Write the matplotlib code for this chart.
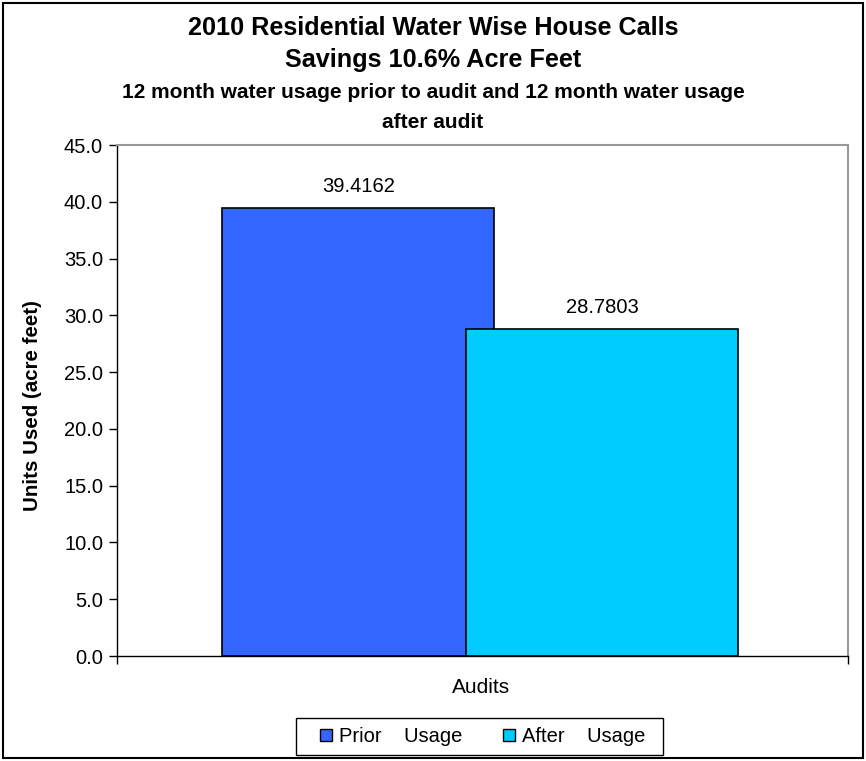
import matplotlib
matplotlib.use('Agg')
import matplotlib.pyplot as plt
from matplotlib.patches import Rectangle, Patch

plt.rcParams['font.family'] = ['Liberation Sans', 'DejaVu Sans']

series = ['Prior    Usage', 'After    Usage']
values = [39.4162, 28.7803]
value_labels = ['39.4162', '28.7803']
colors = ['#3366FF', '#00CCFF']
yticks = [0, 5, 10, 15, 20, 25, 30, 35, 40, 45]

W, H = 866, 761
fig = plt.figure(figsize=(W / 100, H / 100), dpi=100)

# outer chart border
fig.patches.append(Rectangle((3 / W, 3 / H), 860 / W, 755 / H, transform=fig.transFigure,
                             fill=False, edgecolor='black', linewidth=1.5))

ax = fig.add_axes([117 / W, 1 - 656 / H, 731 / W, 511 / H])

pos = [0.330, 0.664]
for p, v, c in zip(pos, values, colors):
    ax.bar(p, v, width=0.372, color=c, edgecolor='black', linewidth=1.2)
for p, v, t in zip(pos, values, value_labels):
    ax.text(p, v + 1.95, t, ha='center', va='center', fontsize=14.5)

ax.set_xlim(0, 1)
ax.set_ylim(0, 45)
ax.set_yticks(yticks)
ax.set_yticklabels([f'{t:.1f}' for t in yticks], fontsize=14.5)
ax.set_xticks([0, 1])
ax.set_xticklabels(['', ''])
ax.tick_params(axis='both', direction='out', length=6, width=1, color='black')
ax.tick_params(axis='y', pad=4)

for s in ['top', 'right']:
    ax.spines[s].set_color('#999999')
    ax.spines[s].set_linewidth(1.5)
for s in ['left', 'bottom']:
    ax.spines[s].set_color('black')
    ax.spines[s].set_linewidth(1)

ax.set_ylabel('Units Used (acre feet)', fontsize=14.8, fontweight='bold', va='center')
ax.yaxis.set_label_coords(-0.115, 0.49)
ax.set_xlabel('Audits', fontsize=15, va='center')
ax.xaxis.set_label_coords(0.498, -0.0607)

fig.text(0.5, 1 - 28 / H, '2010 Residential Water Wise House Calls', ha='center', va='center',
         fontsize=18.2, fontweight='bold')
fig.text(0.5, 1 - 60 / H, 'Savings 10.6% Acre Feet', ha='center', va='center',
         fontsize=18.2, fontweight='bold')
fig.text(0.5, 1 - 92 / H, '12 month water usage prior to audit and 12 month water usage',
         ha='center', va='center', fontsize=15, fontweight='bold')
fig.text(0.5, 1 - 123 / H, 'after audit', ha='center', va='center', fontsize=15, fontweight='bold')

# legend box drawn separately (Excel style, wide padding)
fig.patches.append(Rectangle((296 / W, 1 - 755 / H), 367 / W, 37 / H, transform=fig.transFigure,
                             fill=False, edgecolor='black', linewidth=1))
handles = [Patch(facecolor=c, edgecolor='black', label=s) for s, c in zip(series, colors)]
leg = fig.legend(handles=handles, loc='center', bbox_to_anchor=(482.5 / W, 1 - 736.5 / H), ncol=2,
                 fontsize=14.5, frameon=False,
                 handlelength=0.6, handleheight=0.6, handletextpad=0.35, columnspacing=2.0,
                 borderpad=0.0)

fig.savefig('out.png', dpi=100)
